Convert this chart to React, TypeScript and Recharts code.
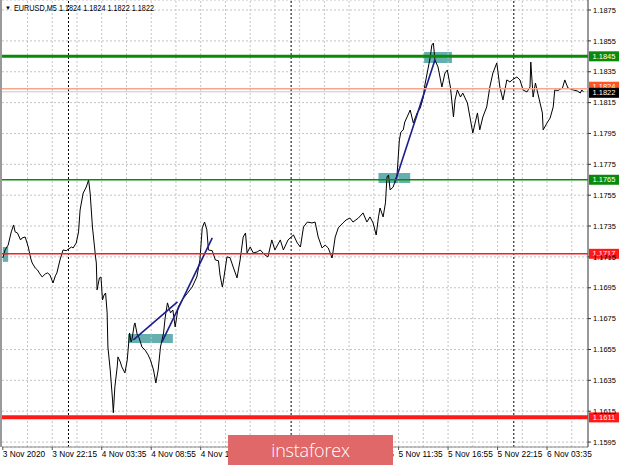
import React from "react";
import {
  ComposedChart,
  Line,
  XAxis,
  YAxis,
  CartesianGrid,
  ReferenceLine,
  ReferenceArea,
} from "recharts";

// 5-minute bar index (0 = 3 Nov 16:55) and close price
const bars = [
  0, 3, 7, 11, 14, 16, 19, 23, 25, 29, 33, 36, 38, 42, 45, 48, 51, 55, 58, 61,
  65, 68, 70, 74, 78, 82, 85, 89, 91, 95, 98, 100, 104, 108, 111, 113, 116, 120, 121, 122,
  125, 127, 129, 131, 133, 135, 136, 139, 142, 143, 145, 148, 149, 152, 154, 158, 161, 164, 166, 167,
  170, 171, 174, 176, 180, 184, 188, 191, 195, 198, 201, 204, 208, 210, 213, 217, 220, 223, 227, 232,
  236, 239, 245, 251, 255, 258, 261, 264, 266, 271, 275, 279, 281, 284, 285, 290, 294, 298, 303, 307,
  311, 314, 316, 320, 324, 329, 333, 339, 343, 348, 352, 359, 363, 369, 376, 381, 385, 389, 394, 400,
  404, 408, 413, 417, 421, 426, 430, 434, 440, 444, 449, 453, 460, 466, 471, 475, 479, 483, 486, 488,
  492, 495, 497, 499, 501, 505, 510, 513, 515, 518, 520, 523, 527, 531, 536, 540, 544, 546, 549, 553,
  555, 557, 559, 563, 568, 572, 575, 579, 583, 585, 588, 592, 595, 601, 605, 608, 614, 617, 621, 626,
  630, 634, 639, 643, 647, 652, 656, 659, 665, 669, 673, 678, 682, 683, 686, 689, 692, 698, 699, 704,
  708, 712, 714, 718, 724, 727, 731, 738, 743, 747, 749, 751,
];
const closes = [
  1.17143, 1.17195, 1.17227, 1.17312, 1.17357, 1.17312, 1.17305, 1.1726, 1.17273, 1.17279, 1.17214, 1.17143, 1.17111, 1.17078, 1.17065, 1.1704, 1.1702, 1.1704, 1.17046, 1.17033,
  1.16981, 1.17027, 1.17046, 1.1713, 1.17195, 1.1719, 1.17201, 1.17214, 1.17208, 1.1724, 1.17312, 1.17454, 1.17564, 1.17603, 1.17649, 1.17564, 1.17344, 1.1715, 1.17111, 1.16936,
  1.17014, 1.1702, 1.16871, 1.16903, 1.16916, 1.16787, 1.16566, 1.16417, 1.16223, 1.1614, 1.16307, 1.16437, 1.16502, 1.16469, 1.16437, 1.16398, 1.16482, 1.16657, 1.16599, 1.16612,
  1.16709, 1.16722, 1.16644, 1.16631, 1.16566, 1.16547, 1.16515, 1.16482, 1.16417, 1.16333, 1.16417, 1.16566, 1.16657, 1.16754, 1.16852, 1.16787, 1.16806, 1.16696, 1.16826, 1.16871,
  1.16897, 1.16916, 1.16955, 1.1702, 1.1713, 1.17338, 1.17376, 1.17325, 1.17195, 1.1719, 1.1713, 1.17125, 1.17033, 1.16955, 1.16981, 1.1715, 1.17145, 1.17085, 1.17014, 1.1713,
  1.17279, 1.17305, 1.17176, 1.17214, 1.17176, 1.17182, 1.17195, 1.17163, 1.1715, 1.1726, 1.17195, 1.1726, 1.17195, 1.1726, 1.17292, 1.1724, 1.17214, 1.17344, 1.17376, 1.1737,
  1.17376, 1.17279, 1.17208, 1.17227, 1.17208, 1.17143, 1.17279, 1.17338, 1.1737, 1.17389, 1.17402, 1.17376, 1.17402, 1.17435, 1.17376, 1.17409, 1.1737, 1.17292, 1.17409, 1.17467,
  1.17409, 1.175, 1.17668, 1.17681, 1.17584, 1.17603, 1.17681, 1.17908, 1.1796, 1.17973, 1.18024, 1.18057, 1.18102, 1.18018, 1.18083, 1.18115, 1.18186, 1.18264, 1.18342, 1.18446,
  1.18523, 1.18536, 1.18426, 1.18381, 1.18251, 1.18342, 1.18361, 1.18251, 1.18057, 1.18167, 1.18232, 1.18186, 1.18212, 1.18148, 1.18037, 1.17953, 1.18083, 1.17973, 1.18057, 1.18122,
  1.18251, 1.18342, 1.18407, 1.18251, 1.18167, 1.18297, 1.18284, 1.18297, 1.18316, 1.18297, 1.18232, 1.18219, 1.18251, 1.18413, 1.18186, 1.18277, 1.18212, 1.18083, 1.17973, 1.18018,
  1.1805, 1.18122, 1.18232, 1.18228, 1.18245, 1.18297, 1.18245, 1.18232, 1.18226, 1.18212, 1.18232, 1.1822,
];

const priceTicks = [
  1.1595, 1.1615, 1.1635, 1.1655, 1.1675, 1.1695, 1.1715, 1.1735, 1.1755, 1.1775,
  1.1795, 1.1815, 1.1835, 1.1855, 1.1875,
];
const labelBars = [0, 64, 128, 192, 256, 320, 384, 448, 512, 576, 640, 704];
const timeLabels = [
  "3 Nov 2020", "3 Nov 22:15", "4 Nov 03:35", "4 Nov 08:55", "4 Nov 14:15", "4 Nov 19:35",
  "5 Nov 00:55", "5 Nov 06:15", "5 Nov 11:35", "5 Nov 16:55", "5 Nov 22:15", "6 Nov 03:35",
];
const gridBars = [
  32, 64, 96, 128, 160, 192, 224, 256, 288, 320, 352, 384, 416, 448, 480, 512, 544, 576,
  608, 640, 672, 704, 736,
];
const daySeparators = [85, 373, 661];

const titleText = "EURUSD,M5 1.1824 1.1824 1.1822 1.1822";
const watermarkText = "instaforex";

// horizontal levels
const levels = [
  { price: 1.1845, color: "#0a8a0a", width: 3, tag: "1.1845", tagFill: "#0a8a0a" },
  { price: 1.1765, color: "#0a8a0a", width: 1.6, tag: "1.1765", tagFill: "#0a8a0a" },
  { price: 1.1717, color: "#ff1a1a", width: 1.6, tag: "1.1717", tagFill: "#ff1a1a" },
  { price: 1.1611, color: "#ff1a1a", width: 4, tag: "1.1611", tagFill: "#ff1a1a" },
];
const askPrice = 1.1824;
const bidPrice = 1.1822;

// highlight boxes [bar1, bar2, price1, price2]
const boxes = [
  [0, 7, 1.17118, 1.17214],
  [162, 220, 1.16592, 1.16651],
  [486, 527, 1.17629, 1.17694],
  [545, 581, 1.18407, 1.18478],
];
// trend segments [bar1, price1, bar2, price2]
const trends = [
  [169, 1.16612, 226, 1.16858],
  [206, 1.16599, 271, 1.17273],
  [507, 1.17629, 559, 1.18426],
];

const data = bars.map((b, i) => ({ bar: b, price: closes[i] }));

const FONT = "'Liberation Sans', Arial, sans-serif";

const PriceTag = (props: any) => {
  const { viewBox, text, fill, dyShift = 0 } = props;
  if (!viewBox) return null;
  const x = viewBox.x + viewBox.width + 1;
  const y = viewBox.y + dyShift;
  return (
    <g>
      <rect x={x} y={y - 5} width={30} height={10} fill={fill} />
      <text
        x={x + 15}
        y={y}
        dy="0.35em"
        textAnchor="middle"
        fontSize={7.5}
        fontFamily={FONT}
        fill="#ffffff"
      >
        {text}
      </text>
    </g>
  );
};

const TimeTick = (props: any) => {
  const { x, y, payload } = props;
  const idx = labelBars.indexOf(payload.value);
  return (
    <text x={x} y={y} dy="0.71em" textAnchor="start" fontSize={8.3} fontFamily={FONT} fill="#000">
      {idx >= 0 ? timeLabels[idx] : ""}
    </text>
  );
};

export default function App() {
  return (
    <div
      style={{
        position: "absolute",
        left: 0,
        top: 0,
        width: 620,
        height: 465,
        overflow: "hidden",
        background: "#fff",
      }}
    >
      <ComposedChart
        width={620}
        height={465}
        data={data}
        margin={{ top: 0, right: 0, left: 2, bottom: 0 }}
      >
        <CartesianGrid
          vertical={false}
          stroke="#c4c4c4"
          strokeDasharray="2 2"
        />
        {gridBars.map((g) => (
          <ReferenceLine key={"g" + g} x={g} stroke="#c4c4c4" strokeDasharray="2 2" />
        ))}
        {daySeparators.map((d) => (
          <ReferenceLine key={"d" + d} x={d} stroke="#000" strokeDasharray="2 2" />
        ))}
        <XAxis
          dataKey="bar"
          type="number"
          domain={[-1, 757]}
          allowDataOverflow
          ticks={labelBars}
          interval={0}
          height={18}
          tickSize={3}
          tickMargin={1}
          tick={<TimeTick />}
          axisLine={{ stroke: "#8a8a8a" }}
          tickLine={{ stroke: "#555" }}
        />
        <YAxis
          orientation="right"
          type="number"
          domain={[1.15918, 1.18815]}
          allowDataOverflow
          ticks={priceTicks}
          interval={0}
          width={32}
          tickSize={3}
          tickMargin={2}
          tickFormatter={(v: number) => v.toFixed(4)}
          tick={{ fontSize: 7.5, fontFamily: FONT, fill: "#000", textAnchor: "start" }}
          axisLine={{ stroke: "#333" }}
          tickLine={{ stroke: "#333" }}
        />
        <ReferenceLine y={bidPrice} stroke="#c8c8c8" strokeWidth={1} />
        <Line
          type="linear"
          dataKey="price"
          stroke="#000"
          strokeWidth={1}
          dot={false}
          isAnimationActive={false}
        />
        {boxes.map((b, i) => (
          <ReferenceArea
            key={"b" + i}
            x1={b[0]}
            x2={b[1]}
            y1={b[2]}
            y2={b[3]}
            fill="#3a9898"
            fillOpacity={0.78}
            stroke="none"
          />
        ))}
        {trends.map((t, i) => (
          <ReferenceLine
            key={"t" + i}
            segment={[
              { x: t[0], y: t[1] },
              { x: t[2], y: t[3] },
            ]}
            stroke="#1c1c8c"
            strokeWidth={1.6}
          />
        ))}
        {levels.map((l) => (
          <ReferenceLine
            key={"l" + l.price}
            y={l.price}
            stroke={l.color}
            strokeWidth={l.width}
            zIndex={900}
            label={<PriceTag text={l.tag} fill={l.tagFill} />}
          />
        ))}
        <ReferenceLine
          y={askPrice}
          stroke="#f7a58f"
          strokeWidth={1.5}
          zIndex={900}
          label={<PriceTag text={askPrice.toFixed(4)} fill="#ff5522" dyShift={-2} />}
        />
        <ReferenceLine
          y={bidPrice}
          stroke="none"
          zIndex={901}
          label={<PriceTag text={bidPrice.toFixed(4)} fill="#000000" dyShift={1} />}
        />
      </ComposedChart>
      <div
        style={{
          position: "absolute",
          left: 0,
          top: 0,
          width: 2,
          height: 447,
          background: "#9a9a9a",
        }}
      />
      <svg
        width={200}
        height={16}
        style={{ position: "absolute", left: 0, top: 0 }}
      >
        <text x={5} y={10} fontSize={6} fontFamily={FONT} fill="#000">
          ▼
        </text>
        <text
          x={14}
          y={10.5}
          fontSize={8.3}
          fontFamily={FONT}
          fill="#000"
          textLength={140}
          lengthAdjust="spacingAndGlyphs"
        >
          {titleText}
        </text>
      </svg>
      <div
        style={{
          position: "absolute",
          left: 228,
          top: 435,
          width: 165,
          height: 30,
          background: "#e06868",
          color: "#fff",
          fontFamily: "'Open Sans', sans-serif",
          fontWeight: 300,
          fontSize: 18,
          lineHeight: "30px",
          textAlign: "center",
          letterSpacing: -0.2,
        }}
      >
        {watermarkText}
      </div>
    </div>
  );
}
